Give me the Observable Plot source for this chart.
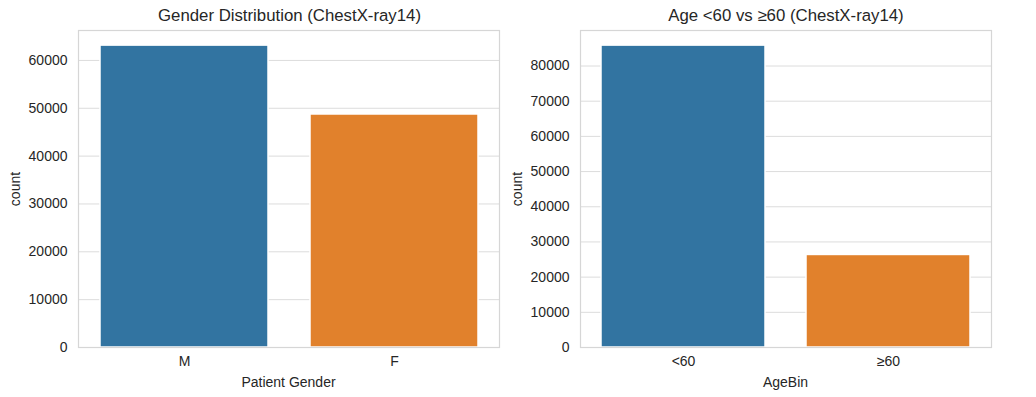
<!DOCTYPE html>
<html>
<head>
<meta charset="utf-8">
<script src="https://cdn.jsdelivr.net/npm/d3@7"></script>
<script src="https://cdn.jsdelivr.net/npm/@observablehq/plot@0.6"></script>
<style>
  html, body { margin: 0; padding: 0; background: #fff; }
  #wrap { position: relative; width: 1036px; height: 397px; font-family: "Liberation Sans", Arial, sans-serif; color: #262626; }
  .panel { position: absolute; top: 0; }
  .lbl { position: absolute; white-space: nowrap; transform: translate(-50%, -50%); }
  .title { font-size: 16.8px; }
  .axlbl { font-size: 14px; }
  .ylbl { transform: translate(-50%, -50%) rotate(-90deg); }
</style>
</head>
<body>
<div id="wrap"></div>
<script>
// ---- data ----
const genderCategories = ["M", "F"];
const genderCounts = [63100, 48700];
const genderTicks = [0, 10000, 20000, 30000, 40000, 50000, 60000];

const ageCategories = ["<60", "≥60"];
const ageCounts = [85800, 26300];
const ageTicks = [0, 10000, 20000, 30000, 40000, 50000, 60000, 70000, 80000];

const barColors = ["#3274a1", "#e1812c"];

const titles = ["Gender Distribution (ChestX-ray14)", "Age <60 vs ≥60 (ChestX-ray14)"];
const xLabels = ["Patient Gender", "AgeBin"];
const yLabel = "count";

// ---- drawing ----
const wrap = document.getElementById("wrap");

function panel(cats, counts, ticks, left, width, mL, mR) {
  const data = cats.map((c, i) => ({cat: c, n: counts[i]}));
  const ymax = d3.max(counts) * 1.05;
  const chart = Plot.plot({
    width, height: 397,
    marginLeft: mL, marginRight: mR, marginTop: 30, marginBottom: 50,
    style: {fontFamily: '"Liberation Sans", Arial, sans-serif', fontSize: "14px", color: "#262626", background: "#fff"},
    x: {domain: cats, paddingInner: 0.2, paddingOuter: 0.1},
    y: {domain: [0, ymax]},
    color: {domain: cats, range: barColors},
    marks: [
      Plot.gridY(ticks, {stroke: "#dcdcdc", strokeOpacity: 1, strokeWidth: 1}),
      Plot.barY(data, {x: "cat", y: "n", fill: "cat", stroke: "#fff", strokeWidth: 1.5}),
      Plot.frame({stroke: "#d6d6d6", strokeWidth: 1.2}),
      Plot.axisY(ticks, {tickSize: 0, tickPadding: 11, tickFormat: d => String(d), label: null, fill: "#262626"}),
      Plot.axisX({tickSize: 0, tickPadding: 9, label: null, fill: "#262626"})
    ]
  });
  chart.classList.add("panel");
  chart.style.left = left + "px";
  wrap.appendChild(chart);
}

panel(genderCategories, genderCounts, genderTicks, 0, 510, 78, 11);
panel(ageCategories, ageCounts, ageTicks, 510, 526, 70, 45);

function label(text, x, y, cls) {
  const d = document.createElement("div");
  d.className = "lbl " + cls;
  d.textContent = text;
  d.style.left = x + "px";
  d.style.top = y + "px";
  wrap.appendChild(d);
}
label(titles[0], 289.5, 16, "title");
label(titles[1], 786, 16, "title");
label(xLabels[0], 288.5, 382, "axlbl");
label(xLabels[1], 785.5, 382, "axlbl");
label(yLabel, 15, 189, "axlbl ylbl");
label(yLabel, 517, 189, "axlbl ylbl");
</script>
</body>
</html>
